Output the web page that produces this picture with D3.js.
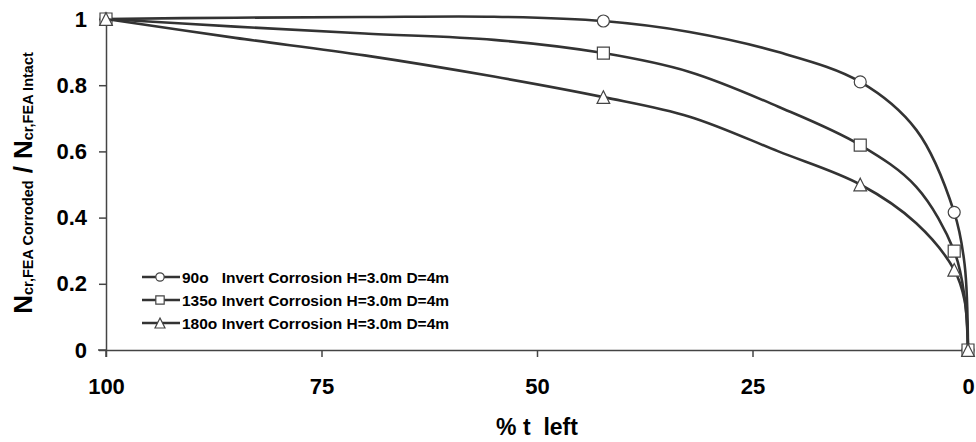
<!DOCTYPE html>
<html>
<head>
<meta charset="utf-8">
<script src="https://cdn.jsdelivr.net/npm/d3@7"></script>
<style>
  body { margin: 0; background: #fff; }
  text { font-family: "Liberation Sans", Arial, sans-serif; font-weight: bold; fill: #000; }
</style>
</head>
<body>
<svg width="976" height="442"></svg>
<script>
// % of wall thickness left, and N_cr corroded / N_cr intact
const lineX  = [100, 85, 70, 55, 42.3, 32.3, 22, 12.5, 6, 1.6, 0.4, 0];
const deg90  = [1, 1.004, 1.006, 1.007, 0.994, 0.961, 0.90, 0.81, 0.665, 0.416, 0.26, 0];
const deg135 = [1, 0.977, 0.956, 0.937, 0.897, 0.84, 0.735, 0.619, 0.493, 0.299, 0.16, 0];
const deg180 = [1, 0.943, 0.89, 0.826, 0.764, 0.705, 0.60, 0.50, 0.383, 0.242, 0.15, 0];

// points that carry a marker
const markerX = [100, 42.3, 12.5, 1.6, 0];

const seriesNames = [
  "90o   Invert Corrosion H=3.0m D=4m",
  "135o Invert Corrosion H=3.0m D=4m",
  "180o Invert Corrosion H=3.0m D=4m"
];
const xTicks = [100, 75, 50, 25, 0];
const yTicks = [0, 0.2, 0.4, 0.6, 0.8, 1];

// triangle as tall as it is wide (excel style)
const symbolTri = {
  draw(ctx, size) {
    const h = Math.sqrt(size) / 2;
    ctx.moveTo(0, -h);
    ctx.lineTo(h, h);
    ctx.lineTo(-h, h);
    ctx.closePath();
  }
};
const symbolTypes = [d3.symbolCircle, d3.symbolSquare, symbolTri];
const plotSizes = [113, 144, 160];
const legendSizes = [55, 70, 100];

var svg = d3.select("svg");

var x = d3.scaleLinear().domain([100, 0]).range([106, 968]);
var y = d3.scaleLinear().domain([0, 1]).range([350, 19]);

// axes
var xAxis = svg.append("g")
    .attr("transform", "translate(0,350)")
    .call(d3.axisBottom(x).tickValues(xTicks).tickSize(7).tickPadding(21).tickSizeOuter(0));
var yAxis = svg.append("g")
    .attr("transform", "translate(106,0)")
    .call(d3.axisLeft(y).tickValues(yTicks).tickFormat(d3.format("")).tickSize(7).tickPadding(12).tickSizeOuter(0));

[xAxis, yAxis].forEach(a => {
  a.select(".domain").attr("stroke", "#444").attr("stroke-width", 1.5);
  a.selectAll(".tick line").attr("stroke", "#444").attr("stroke-width", 1.5);
  a.selectAll(".tick text")
    .attr("fill", "#000")
    .style("font-size", "22px")
    .style("font-family", '"Liberation Sans", Arial, sans-serif')
    .style("font-weight", "bold");
});
// x axis line starts a little left of the y axis, y axis runs down past it
xAxis.append("line").attr("x1", 98).attr("x2", 106).attr("stroke", "#444").attr("stroke-width", 1.5);
yAxis.append("line").attr("y1", 350).attr("y2", 357).attr("stroke", "#444").attr("stroke-width", 1.5);

// curves
var line = d3.line()
    .x(d => x(d[0]))
    .y(d => y(d[1]))
    .curve(d3.curveCatmullRom.alpha(0.5));

[deg90, deg135, deg180].forEach((vals, i) => {
  svg.append("path")
    .datum(lineX.map((v, j) => [v, vals[j]]))
    .attr("fill", "none")
    .attr("stroke", "#333")
    .attr("stroke-width", 2.6)
    .attr("d", line);

  svg.append("g").selectAll("path")
    .data(markerX.map(v => [v, vals[lineX.indexOf(v)]]))
    .enter().append("path")
    .attr("transform", d => "translate(" + x(d[0]) + "," + y(d[1]) + ")")
    .attr("d", d3.symbol(symbolTypes[i], plotSizes[i]))
    .attr("fill", "#fff")
    .attr("stroke", "#444")
    .attr("stroke-width", 1.2);
});

// legend
var legend = svg.append("g").attr("transform", "translate(142,277)");
seriesNames.forEach((name, i) => {
  var row = legend.append("g").attr("transform", "translate(0," + i * 23 + ")");
  row.append("line").attr("x1", 0).attr("x2", 38).attr("stroke", "#333").attr("stroke-width", 2.6);
  row.append("path").attr("transform", "translate(18,0)").attr("d", d3.symbol(symbolTypes[i], legendSizes[i]))
    .attr("fill", "#fff").attr("stroke", "#444").attr("stroke-width", 1.2);
  row.append("text")
    .attr("x", 40).attr("dy", "0.36em")
    .attr("xml:space", "preserve")
    .style("font-size", "15.5px")
    .text(name);
});

// axis titles
svg.append("text")
  .attr("x", 537).attr("y", 435)
  .attr("text-anchor", "middle")
  .attr("xml:space", "preserve")
  .style("font-size", "23px")
  .text("% t  left");

var ylab = svg.append("text")
  .attr("transform", "translate(32,183) rotate(-90)")
  .attr("text-anchor", "middle")
  .style("font-size", "26px");
ylab.append("tspan").text("N");
ylab.append("tspan").style("font-size", "14.5px").attr("dy", 1).text("cr,FEA Corroded");
ylab.append("tspan").attr("dy", -1).attr("dx", 7).text("/");
ylab.append("tspan").attr("dx", 7).text("N");
ylab.append("tspan").style("font-size", "14.5px").attr("dy", 1).text("cr,FEA Intact");
</script>
</body>
</html>
